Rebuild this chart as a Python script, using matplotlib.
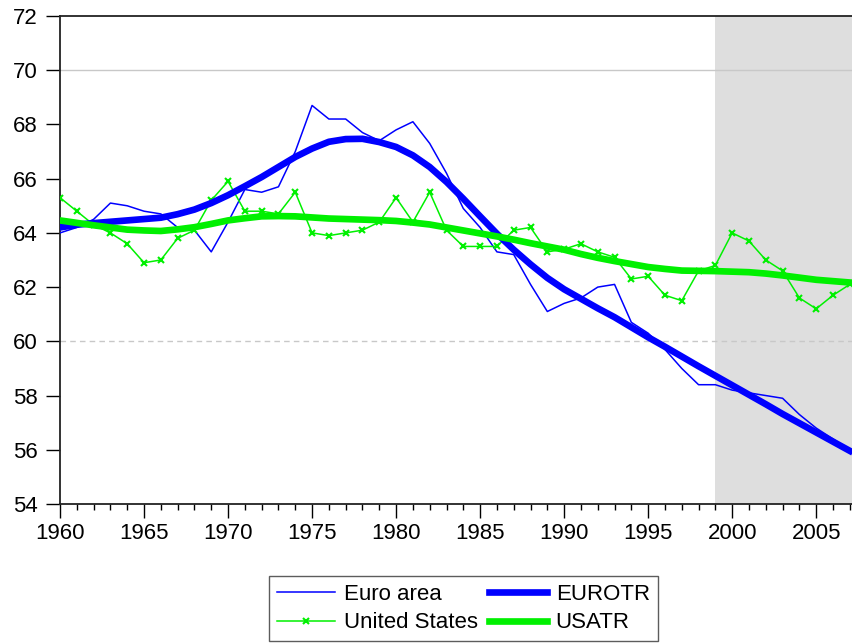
import numpy as np
import matplotlib
matplotlib.use("Agg")
import matplotlib.pyplot as plt
from matplotlib.ticker import MultipleLocator

plt.rcParams['font.family'] = ['Liberation Sans', 'DejaVu Sans']

years = np.arange(1960, 2008)

euro_area = [64.0, 64.2, 64.5, 65.1, 65.0, 64.8, 64.7, 64.2, 64.1, 63.3,
             64.4, 65.6, 65.5, 65.7, 67.0, 68.7, 68.2, 68.2, 67.7, 67.4,
             67.8, 68.1, 67.3, 66.2, 64.9, 64.2, 63.3, 63.2, 62.1, 61.1,
             61.4, 61.6, 62.0, 62.1, 60.7, 60.3, 59.7, 59.0, 58.4, 58.4,
             58.2, 58.1, 58.0, 57.9, 57.3, 56.8, 56.4, 56.0]

united_states = [65.3, 64.8, 64.3, 64.0, 63.6, 62.9, 63.0, 63.8, 64.1, 65.2,
                 65.9, 64.8, 64.8, 64.7, 65.5, 64.0, 63.9, 64.0, 64.1, 64.4,
                 65.3, 64.4, 65.5, 64.1, 63.5, 63.5, 63.5, 64.1, 64.2, 63.3,
                 63.4, 63.6, 63.3, 63.1, 62.3, 62.4, 61.7, 61.5, 62.6, 62.8,
                 64.0, 63.7, 63.0, 62.6, 61.6, 61.2, 61.7, 62.1]

eurotr = [64.20, 64.30, 64.36, 64.41, 64.46, 64.51, 64.56, 64.69, 64.86, 65.10,
          65.39, 65.72, 66.06, 66.43, 66.80, 67.11, 67.36, 67.46, 67.47, 67.35,
          67.17, 66.86, 66.43, 65.88, 65.26, 64.61, 63.97, 63.38, 62.84, 62.34,
          61.92, 61.57, 61.22, 60.89, 60.52, 60.15, 59.80, 59.44, 59.08, 58.73,
          58.38, 58.03, 57.68, 57.32, 56.98, 56.64, 56.30, 55.96]

usatr = [64.46, 64.37, 64.28, 64.20, 64.12, 64.09, 64.07, 64.13, 64.21, 64.33,
         64.46, 64.54, 64.61, 64.62, 64.61, 64.57, 64.53, 64.51, 64.49, 64.47,
         64.44, 64.38, 64.31, 64.20, 64.09, 63.98, 63.87, 63.75, 63.62, 63.50,
         63.38, 63.22, 63.08, 62.96, 62.85, 62.74, 62.67, 62.61, 62.60, 62.59,
         62.57, 62.55, 62.50, 62.43, 62.35, 62.27, 62.22, 62.17]

shade_start = 1999

blue = '#0000ff'
green = '#00f000'

fig = plt.figure(figsize=(8.52, 6.44), dpi=100)
ax = fig.add_axes([60 / 852, 1 - 504 / 644, 792 / 852, 488 / 644])

# forecast period shading
ax.axvspan(shade_start, 2008, color='#dedede', lw=0, zorder=0)

# EViews style grid: solid at 70, dashed at 60
ax.axhline(70, color='#c8c8c8', lw=1, zorder=1)
ax.axhline(60, color='#c8c8c8', lw=1, ls=(0, (4, 3)), zorder=1)

ax.plot(years, euro_area, color=blue, lw=1.1, label='Euro area', zorder=3)
ax.plot(years, united_states, color=green, lw=1.1, marker='x', ms=5,
        mew=1.5, label='United States', zorder=3)
ax.plot(years, eurotr, color=blue, lw=4.8, label='EUROTR', zorder=4)
ax.plot(years, usatr, color=green, lw=4.8, label='USATR', zorder=4)

ax.set_xlim(1960, 2007.13)
ax.set_ylim(54, 72)
ax.xaxis.set_major_locator(MultipleLocator(5))
ax.xaxis.set_minor_locator(MultipleLocator(1))
ax.yaxis.set_major_locator(MultipleLocator(2))

ax.tick_params(which='major', direction='out', length=10, width=1,
               labelsize=16, colors='black')
ax.tick_params(axis='x', which='major', pad=4)
ax.tick_params(axis='y', which='major', pad=6)
ax.tick_params(axis='x', which='minor', direction='out', length=4, width=1)
ax.tick_params(axis='y', which='minor', left=False)

ax.spines['right'].set_visible(False)
for s in ['left', 'top', 'bottom']:
    ax.spines[s].set_linewidth(1.3)
    ax.spines[s].set_color('#222222')

leg = fig.legend(ncol=2, loc='lower center', bbox_to_anchor=(0.544, -0.013),
                 fontsize=16, frameon=True, fancybox=False, edgecolor='#333333',
                 handlelength=2.6, handletextpad=0.4, columnspacing=0.5,
                 labelspacing=0.35, borderpad=0.35, markerscale=0.8)
leg.get_frame().set_linewidth(1.0)

fig.savefig('out.png', dpi=100)
